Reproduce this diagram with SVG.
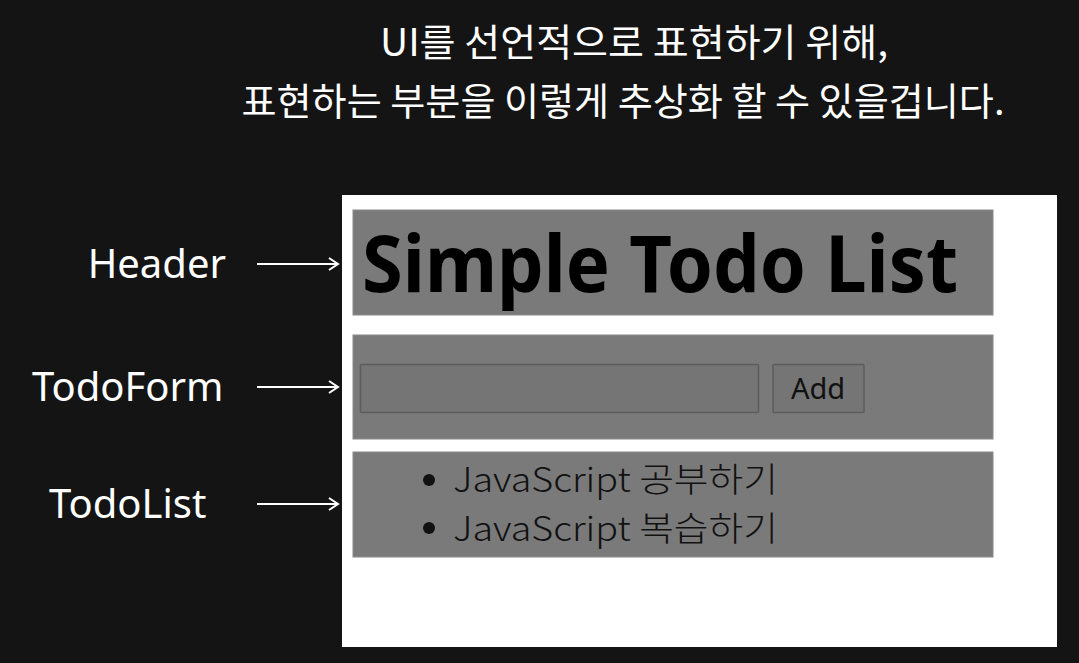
<svg xmlns="http://www.w3.org/2000/svg" width="1079" height="663" viewBox="0 0 1079 663">
<defs>
<style>
.t{font-family:"Noto Sans CJK KR","Noto Sans",sans-serif;fill:#fff;}
.lbl{font-family:"Noto Sans","Open Sans",sans-serif;fill:#fff;font-size:40px;}
.box{fill:#7a7a7a;stroke:#8a8a8a;stroke-width:1;}
.conn{stroke:#fff;stroke-width:2;fill:none;}
.item{font-family:"Noto Sans CJK KR","Noto Sans",sans-serif;font-size:34px;font-weight:300;fill:#111;}
</style>
<marker id="ah" markerWidth="12" markerHeight="14" refX="10" refY="7" orient="auto" markerUnits="userSpaceOnUse">
<path d="M1,1 L10,7 L1,13" fill="none" stroke="#fff" stroke-width="2"/>
</marker>
</defs>
<rect x="0" y="0" width="1079" height="663" fill="#141414"/>
<g id="title">
<text class="t" x="634" y="56" font-size="38" text-anchor="middle" textLength="508" lengthAdjust="spacingAndGlyphs">UI를 선언적으로 표현하기 위해,</text>
<text class="t" x="623" y="115" font-size="38" text-anchor="middle" textLength="763" lengthAdjust="spacingAndGlyphs">표현하는 부분을 이렇게 추상화 할 수 있을겁니다.</text>
</g>
<g id="page">
<rect x="342" y="195" width="715" height="452" fill="#fff"/>
</g>
<g id="header">
<rect class="box" x="353" y="210" width="640" height="105"/>
<text x="362" y="292" font-family="Noto Sans, Open Sans, sans-serif" font-weight="bold" font-size="78" fill="#000" textLength="596" lengthAdjust="spacingAndGlyphs">Simple Todo List</text>
</g>
<g id="todoform">
<rect class="box" x="353" y="335" width="640" height="104"/>
<rect x="360.5" y="364.5" width="398" height="48" fill="#757575" stroke="#5c5c5c" stroke-width="1.5" rx="1"/>
<rect x="773" y="364.5" width="91" height="48" fill="#757575" stroke="#5c5c5c" stroke-width="1.5" rx="1"/>
<text x="818" y="399" font-family="Noto Sans, Open Sans, sans-serif" font-size="29" fill="#111" text-anchor="middle">Add</text>
</g>
<g id="todolist">
<rect class="box" x="353" y="452" width="640" height="105"/>
<circle cx="429" cy="480" r="6" fill="#111"/>
<circle cx="429" cy="528" r="6" fill="#111"/>
<text class="item" x="453" y="492" textLength="325" lengthAdjust="spacingAndGlyphs">JavaScript 공부하기</text>
<text class="item" x="453" y="541" textLength="325" lengthAdjust="spacingAndGlyphs">JavaScript 복습하기</text>
</g>
<g id="labels">
<text class="lbl" x="226" y="278" text-anchor="end">Header</text>
<text class="lbl" x="32" y="401">TodoForm</text>
<text class="lbl" x="49" y="518">TodoList</text>
</g>
<g id="connectors">
<line class="conn" x1="257" y1="264" x2="338" y2="264" marker-end="url(#ah)"/>
<line class="conn" x1="257" y1="387" x2="338" y2="387" marker-end="url(#ah)"/>
<line class="conn" x1="257" y1="504" x2="338" y2="504" marker-end="url(#ah)"/>
</g>
</svg>
